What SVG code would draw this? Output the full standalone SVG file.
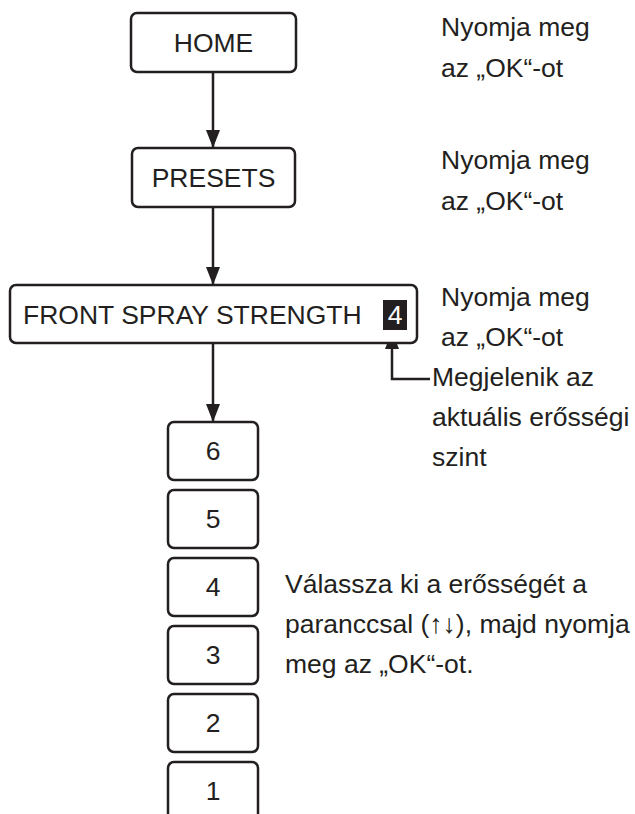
<svg xmlns="http://www.w3.org/2000/svg" width="635" height="814" viewBox="0 0 635 814">
<style>
.box{fill:#fff;stroke:#231f20;stroke-width:2.5}
.t{font-family:"Liberation Sans",Arial,sans-serif;font-size:26.5px;fill:#231f20}
.c{text-anchor:middle}
.ln{fill:none;stroke:#231f20;stroke-width:2.5}
</style>
<defs>
<marker id="ah" markerWidth="18" markerHeight="14" refX="18" refY="7" orient="auto" markerUnits="userSpaceOnUse" viewBox="0 0 18 14">
<path d="M0,0 L18,7 L0,14 Z" fill="#231f20"/>
</marker>
</defs>
<rect width="635" height="814" fill="#fff"/>
<g id="connectors">
<line class="ln" x1="213" y1="72" x2="213" y2="148" marker-end="url(#ah)"/>
<line class="ln" x1="213" y1="207" x2="213" y2="285" marker-end="url(#ah)"/>
<line class="ln" x1="213" y1="343" x2="213" y2="422" marker-end="url(#ah)"/>
<polyline class="ln" points="430,379 392,379 392,331" marker-end="url(#ah)"/>
</g>
<g id="home">
<rect class="box" x="131" y="13" width="165" height="59" rx="6"/>
<text class="t c" x="213.5" y="52">HOME</text>
</g>
<g id="presets">
<rect class="box" x="132" y="148" width="163" height="59" rx="6"/>
<text class="t c" x="213.5" y="187">PRESETS</text>
</g>
<g id="front">
<rect class="box" x="10" y="285" width="407" height="58" rx="6"/>
<text class="t" x="23" y="324">FRONT SPRAY STRENGTH</text>
<rect x="383" y="300" width="24" height="30" fill="#231f20"/>
<text class="t c" x="395" y="324" style="fill:#fff">4</text>
</g>
<g id="lvl6"><rect class="box" x="168" y="422" width="90" height="58" rx="6"/><text class="t c" x="213" y="460">6</text></g>
<g id="lvl5"><rect class="box" x="168" y="490" width="90" height="58" rx="6"/><text class="t c" x="213" y="528">5</text></g>
<g id="lvl4"><rect class="box" x="168" y="558" width="90" height="58" rx="6"/><text class="t c" x="213" y="596">4</text></g>
<g id="lvl3"><rect class="box" x="168" y="626" width="90" height="58" rx="6"/><text class="t c" x="213" y="664">3</text></g>
<g id="lvl2"><rect class="box" x="168" y="694" width="90" height="58" rx="6"/><text class="t c" x="213" y="732">2</text></g>
<g id="lvl1"><rect class="box" x="168" y="762" width="90" height="70" rx="6"/><text class="t c" x="213" y="800">1</text></g>
<g id="notes">
<text class="t" x="441" y="36">Nyomja meg</text>
<text class="t" x="441" y="77">az „OK“-ot</text>
<text class="t" x="441" y="169">Nyomja meg</text>
<text class="t" x="441" y="210">az „OK“-ot</text>
<text class="t" x="441" y="306">Nyomja meg</text>
<text class="t" x="441" y="346">az „OK“-ot</text>
<text class="t" x="432" y="386">Megjelenik az</text>
<text class="t" x="432" y="426">aktuális erősségi</text>
<text class="t" x="432" y="466">szint</text>
<text class="t" x="285" y="593">Válassza ki a erősségét a</text>
<text class="t" x="285" y="633">paranccsal (↑↓), majd nyomja</text>
<text class="t" x="285" y="673">meg az „OK“-ot.</text>
</g>
</svg>
